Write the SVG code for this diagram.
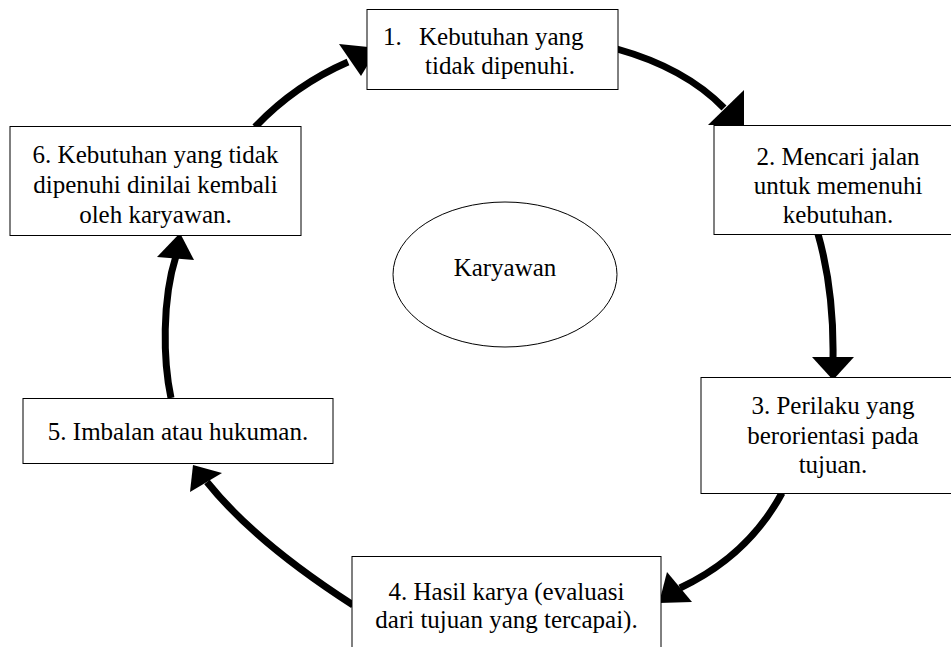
<svg xmlns="http://www.w3.org/2000/svg" width="951" height="647" viewBox="0 0 951 647">
<style>
.bg{fill:#ffffff}
.box{fill:#ffffff;stroke:#000000;stroke-width:1}
.t{font-family:"Liberation Serif","Times New Roman",serif;font-size:25px;fill:#000000}
.m{text-anchor:middle}
.arc{fill:none;stroke:#000000;stroke-width:7}
.head{fill:#000000;stroke:none}
.ell{fill:none;stroke:#000000;stroke-width:1}
</style>
<rect class="bg" x="0" y="0" width="951" height="647"/>
<g id="connectors">
<path class="arc" d="M255,127 Q295,85 348,62"/>
<polygon class="head" points="339,44 361,76 378,48"/>
<path class="arc" d="M617,49 Q685,68 724,108"/>
<polygon class="head" points="708,125 744,90 744,125"/>
<path class="arc" d="M818,234 Q834,290 833,358"/>
<polygon class="head" points="812,357 854,357 833,380"/>
<path class="arc" d="M782,493 Q748,556 680,588"/>
<polygon class="head" points="667,572 692,602 659,603"/>
<path class="arc" d="M353,605 Q255,542 207,482"/>
<polygon class="head" points="190,492 222,473 193,465"/>
<path class="arc" d="M171,398 C163,360 162,300 176,256"/>
<polygon class="head" points="157,257 194,260 180,233"/>
</g>
<g id="node1">
<rect class="box" x="367" y="9.5" width="251" height="80"/>
<text class="t" x="383" y="44.5">1.</text>
<text class="t" x="419" y="44.5">Kebutuhan yang</text>
<text class="t m" x="500" y="74">tidak dipenuhi.</text>
</g>
<g id="node2">
<rect class="box" x="714" y="125.5" width="250" height="109"/>
<text class="t m" x="838" y="164.5">2. Mencari jalan</text>
<text class="t m" x="838" y="193.5">untuk memenuhi</text>
<text class="t m" x="838" y="222.5">kebutuhan.</text>
</g>
<g id="node3">
<rect class="box" x="701" y="377.5" width="265" height="116"/>
<text class="t m" x="833" y="414">3. Perilaku yang</text>
<text class="t m" x="833" y="443.5">berorientasi pada</text>
<text class="t m" x="833" y="473">tujuan.</text>
</g>
<g id="node4">
<rect class="box" x="352" y="556.5" width="309" height="110"/>
<text class="t m" x="506.5" y="599.5">4. Hasil karya (evaluasi</text>
<text class="t m" x="506.5" y="628">dari tujuan yang tercapai).</text>
</g>
<g id="node5">
<rect class="box" x="23" y="398.5" width="310" height="65"/>
<text class="t m" x="178" y="439.5">5. Imbalan atau hukuman.</text>
</g>
<g id="node6">
<rect class="box" x="10" y="126.5" width="291" height="109"/>
<text class="t m" x="155.5" y="162.5">6. Kebutuhan yang tidak</text>
<text class="t m" x="155.5" y="193">dipenuhi dinilai kembali</text>
<text class="t m" x="155.5" y="223">oleh karyawan.</text>
</g>
<g id="center">
<ellipse class="ell" cx="505" cy="274.5" rx="112" ry="72.5"/>
<text class="t m" x="505" y="276">Karyawan</text>
</g>
</svg>
